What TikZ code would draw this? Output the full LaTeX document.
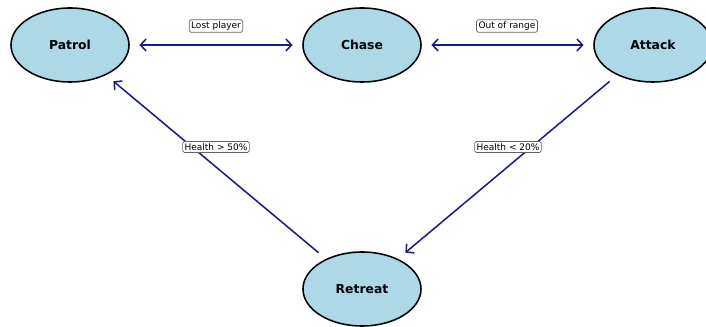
\documentclass[tikz,border=0pt]{standalone}
\usepackage{fontspec}
\setmainfont{DejaVu Sans}
\usetikzlibrary{shapes.geometric,arrows.meta}
\definecolor{edgeblue}{RGB}{28,28,135}
\definecolor{statefill}{RGB}{173,216,230}
\tikzset{
    state/.style={ellipse,draw=black,line width=1.1pt,fill=statefill,
        minimum width=2.95cm,minimum height=1.85cm,
        font=\fontsize{8.8}{10}\selectfont\bfseries},
    trans/.style={edgeblue,line width=1.1pt,shorten >=0.24cm,shorten <=0.24cm,
        arrows={-Straight Barb[length=4pt,width=8.5pt]}},
    cond/.style={draw=black!60,fill=white,rounded corners=1.2pt,inner sep=1.4pt,
        line width=0.5pt,font=\fontsize{6.4}{7.5}\selectfont}
}

\begin{document}
\begin{tikzpicture}[x={(0.025cm,0)},y={(0,-0.025cm)}]
    \useasboundingbox (0,0) rectangle (706,327);
    % States
    \node[state] (patrol)  at (70,45)   {Patrol};
    \node[state] (chase)   at (362,45)  {Chase};
    \node[state] (attack)  at (653,45)  {Attack};
    \node[state] (retreat) at (362,289) {Retreat};
    % Transitions
    \draw[trans,arrows={Straight Barb[length=4pt,width=8.5pt]-Straight Barb[length=4pt,width=8.5pt]}] (patrol) -- (chase);
    \draw[trans,arrows={Straight Barb[length=4pt,width=8.5pt]-Straight Barb[length=4pt,width=8.5pt]}] (chase) -- (attack);
    \draw[trans] (attack) -- (retreat);
    \draw[trans] (retreat) -- (patrol);
    % Labels
    \node[cond] (lost)  at (216,26)  {Lost player};
    \node[cond] (range) at (507,26)  {Out of range};
    \node[cond] (high)  at (216,147) {Health > 50\%};
    \node[cond] (low)   at (508,147) {Health < 20\%};
\end{tikzpicture}
\end{document}
